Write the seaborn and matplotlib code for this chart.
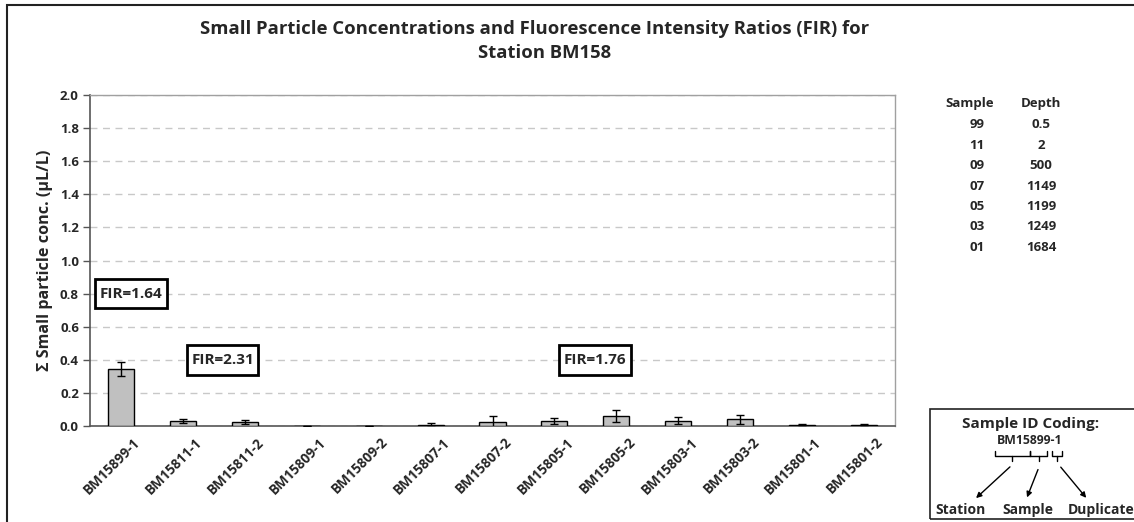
import numpy as np
import pandas as pd
import seaborn as sns
import matplotlib.pyplot as plt
import matplotlib.transforms as mtransforms
from matplotlib.patches import Rectangle, FancyArrowPatch
from matplotlib.lines import Line2D

samples = ["BM15899-1", "BM15811-1", "BM15811-2", "BM15809-1", "BM15809-2",
           "BM15807-1", "BM15807-2", "BM15805-1", "BM15805-2", "BM15803-1",
           "BM15803-2", "BM15801-1", "BM15801-2"]
conc = [0.345, 0.030, 0.024, 0.002, 0.002, 0.007, 0.023, 0.030, 0.060, 0.032, 0.040, 0.008, 0.008]
err = [0.043, 0.014, 0.014, 0.0, 0.0, 0.012, 0.036, 0.020, 0.036, 0.020, 0.027, 0.004, 0.004]

fir_labels = ["FIR=1.64", "FIR=2.31", "FIR=1.76"]
fir_x = [0.16, 1.64, 7.66]
fir_y = [0.80, 0.40, 0.40]

depth_samples = ["99", "11", "09", "07", "05", "03", "01"]
depths = ["0.5", "2", "500", "1149", "1199", "1249", "1684"]

sns.set_style("white")
plt.rcParams["font.family"] = ["Open Sans", "DejaVu Sans"]
plt.rcParams["font.weight"] = "bold"

W, H = 1134, 522
fig = plt.figure(figsize=(W / 100, H / 100), dpi=100)


def fx(x):
    return x / W


def fy(y):
    return 1 - y / H


ax = fig.add_axes([fx(90), fy(426), 805 / W, 331 / H])

df = pd.DataFrame({"sample": samples, "conc": conc})
sns.barplot(data=df, x="sample", y="conc", color="#c0c0c0", saturation=1,
            edgecolor="black", linewidth=1, width=0.42, errorbar=None, ax=ax, zorder=3)
ax.errorbar(np.arange(len(samples)), conc, yerr=err, fmt="none", ecolor="black",
            elinewidth=1, capsize=3, capthick=1, zorder=4)

ax.set_ylim(0, 2.0)
ax.set_xlim(-0.5, len(samples) - 0.5)
yt = np.arange(0, 2.01, 0.2)
ax.set_yticks(yt)
ax.set_yticklabels([f"{v:.1f}" for v in yt], fontsize=9.5, fontweight="bold")
ax.yaxis.grid(True, color="#c8c8c8", linestyle=(0, (5, 4)), linewidth=1, zorder=0)
ax.set_axisbelow(True)

# category labels, rotated like the spreadsheet original
ax.set_xticks(np.arange(len(samples)))
ax.set_xticklabels([])
ax.tick_params(axis="x", length=0)
lab_trans = mtransforms.blended_transform_factory(ax.transData, ax.transAxes) + \
    mtransforms.ScaledTranslation(17 / 100, -14 / 100, fig.dpi_scale_trans)
for i, s in enumerate(samples):
    ax.text(i, 0, s, transform=lab_trans, rotation=45, ha="right", va="center",
            rotation_mode="anchor", fontsize=9.8, fontweight="bold")
ax.set_xticks(np.arange(-0.5, len(samples)), minor=True)
ax.tick_params(axis="x", which="minor", length=5, width=1, color="#555555", direction="out")
ax.tick_params(axis="y", length=5, width=1, color="#555555", direction="out", left=True, pad=3)

ax.set_xlabel("")
ax.set_ylabel("Σ Small particle conc. (μL/L)", fontsize=11.6, fontweight="bold", labelpad=5)

for side in ["left", "bottom"]:
    ax.spines[side].set_color("#555555")
    ax.spines[side].set_linewidth(1.2)
for side in ["top", "right"]:
    ax.spines[side].set_color("#a0a0a0")
    ax.spines[side].set_linewidth(1)

for lab, x, y in zip(fir_labels, fir_x, fir_y):
    ax.text(x, y, lab, ha="center", va="center", fontsize=11, fontweight="bold", zorder=5,
            bbox=dict(boxstyle="square,pad=0.3", mutation_aspect=1.7, facecolor="white",
                      edgecolor="black", linewidth=2))

fig.text(fx(535), fy(29), "Small Particle Concentrations and Fluorescence Intensity Ratios (FIR) for",
         ha="center", va="center", fontsize=13.3, fontweight="bold")
fig.text(fx(545), fy(53), "Station BM158", ha="center", va="center", fontsize=13.3, fontweight="bold")

# depth table
fig.text(fx(970), fy(104), "Sample", ha="center", va="center", fontsize=9.5, fontweight="bold")
fig.text(fx(1041), fy(104), "Depth", ha="center", va="center", fontsize=9.5, fontweight="bold")
for i, (s, d) in enumerate(zip(depth_samples, depths)):
    yy = 125 + i * 20.4
    fig.text(fx(977), fy(yy), s, ha="center", va="center", fontsize=9.5, fontweight="bold")
    fig.text(fx(1041), fy(yy), d, ha="center", va="center", fontsize=9.5, fontweight="bold")

# outer chart frame
fig.patches.append(Rectangle((fx(7), fy(560)), fx(1200), (560 - 5) / H, transform=fig.transFigure,
                             fill=False, edgecolor="#222222", linewidth=1.5))

# sample id coding box
fig.patches.append(Rectangle((fx(930), fy(519)), fx(250), 110 / H, transform=fig.transFigure,
                             fill=False, edgecolor="#222222", linewidth=1.2))
fig.text(fx(1031), fy(424), "Sample ID Coding:", ha="center", va="center", fontsize=11, fontweight="bold")
fig.text(fx(1030), fy(441), "BM15899-1", ha="center", va="center", fontsize=8.8, fontweight="bold")
brackets = [(995, 1030, 1012), (1030, 1047, 1039), (1052, 1062, 1057)]
for x0, x1, xm in brackets:
    for xs, ys in [([x0, x0, x1, x1], [451, 456, 456, 451]), ([xm, xm], [456, 461])]:
        fig.lines.append(Line2D([fx(v) for v in xs], [fy(v) for v in ys], transform=fig.transFigure,
                                color="black", linewidth=1))
arrows = [((1012, 465), (974, 500)), ((1039, 467), (1026, 500)), ((1059, 465), (1088, 500))]
for (x0, y0), (x1, y1) in arrows:
    fig.patches.append(FancyArrowPatch((fx(x0), fy(y0)), (fx(x1), fy(y1)), transform=fig.transFigure,
                                       arrowstyle="-|>", mutation_scale=8, color="black", linewidth=1))
for lab, x in [("Station", 960), ("Sample", 1028), ("Duplicate", 1101)]:
    fig.text(fx(x), fy(510), lab, ha="center", va="center", fontsize=10, fontweight="bold")

fig.savefig("out.png", dpi=100)
